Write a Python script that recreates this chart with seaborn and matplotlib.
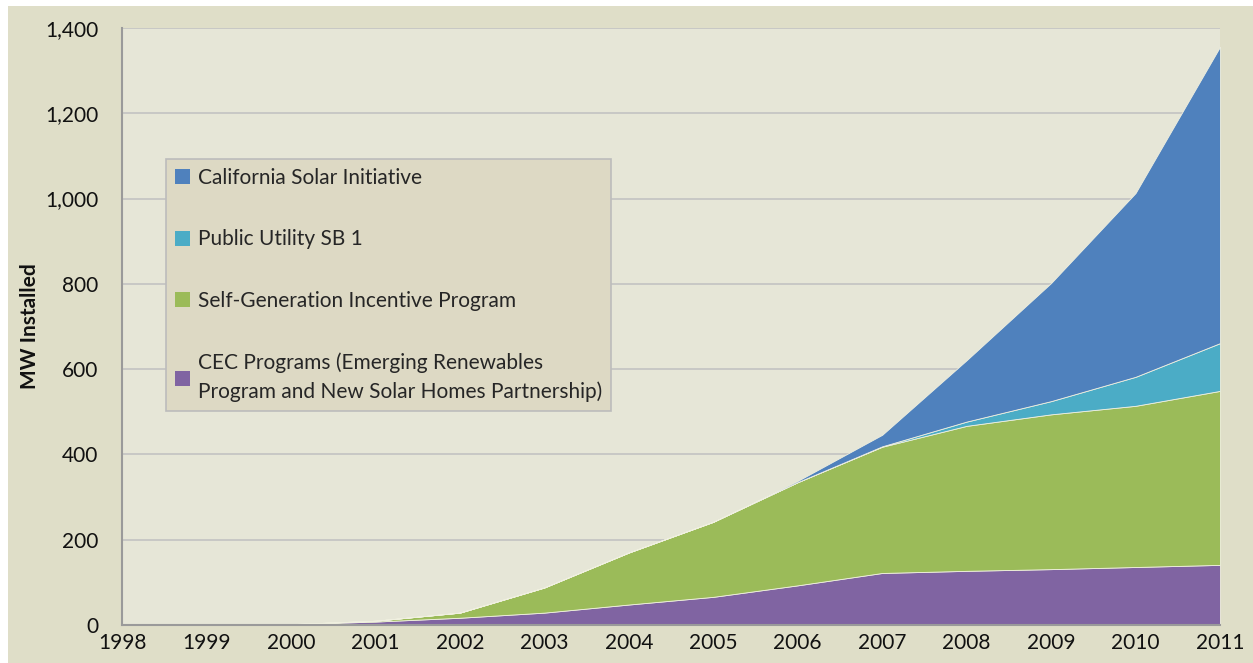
import matplotlib
matplotlib.use("Agg")
import matplotlib.pyplot as plt
import seaborn as sns
import numpy as np
from matplotlib.patches import Rectangle, Patch
from matplotlib.ticker import FuncFormatter

years = [1998, 1999, 2000, 2001, 2002, 2003, 2004, 2005, 2006, 2007, 2008, 2009, 2010, 2011]
cec = [0, 0.5, 2, 8, 17, 29, 48, 66, 93, 122, 127, 131, 136, 141]
sgip = [0, 0, 0, 2, 12, 59, 122, 176, 242, 296, 340, 363, 378, 408]
public_utility = [0, 0, 0, 0, 0, 0, 0, 0, 0, 1, 10, 31, 68, 112]
csi = [0, 0, 0, 0, 0, 0, 0, 0, 3, 27, 144, 277, 431, 695]

labels = ["CEC Programs (Emerging Renewables\nProgram and New Solar Homes Partnership)",
          "Self-Generation Incentive Program",
          "Public Utility SB 1",
          "California Solar Initiative"]
colors = ["#8064a2", "#9bbb59", "#4bacc6", "#4f81bd"]

sns.set_theme(style="white")
plt.rcParams['font.family'] = ['Lato', 'DejaVu Sans']

fig = plt.figure(figsize=(12.53, 6.63), dpi=100, facecolor="white")
fig.patches.append(Rectangle((8/1253, 0), 1 - 8/1253, 1 - 6/663, transform=fig.transFigure,
                             facecolor="#dfdec8", edgecolor="none", zorder=-10))
ax = fig.add_axes([122/1253, 38/663, 1098/1253, 597/663])
ax.set_facecolor("#e6e6d7")

ax.stackplot(years, cec, sgip, public_utility, csi, colors=colors,
             edgecolor="#f0f0e0", linewidth=0.6, zorder=3)

ax.set_xlim(1998, 2011)
ax.set_ylim(0, 1400)
ax.set_yticks(np.arange(0, 1401, 200))
ax.set_xticks(years)
ax.yaxis.set_major_formatter(FuncFormatter(lambda v, p: f"{int(v):,}"))
ax.grid(axis="y", color="#c2c2c2", linewidth=1.2, zorder=0)
ax.grid(axis="x", visible=False)
ax.set_axisbelow(True)
for s in ["top", "right"]:
    ax.spines[s].set_visible(False)
for s in ["left", "bottom"]:
    ax.spines[s].set_color("#9a9a9a")
    ax.spines[s].set_linewidth(1.5)
    ax.spines[s].set_zorder(4)
ax.tick_params(axis="both", labelsize=15, colors="#111111", length=0)
ax.tick_params(axis="y", pad=17)
ax.tick_params(axis="x", pad=6)
ax.set_ylabel("MW Installed", fontsize=15, fontweight="bold", color="#111111")
ax.yaxis.set_label_coords((40 - 122) / 1098, 0.5)

handles = [Patch(facecolor=c, edgecolor="none") for c in colors]
leg = ax.legend(handles[::-1], labels[::-1], loc="upper left",
                bbox_to_anchor=(44/1098, (625-159)/597), borderaxespad=0,
                fontsize=15, frameon=True, fancybox=False,
                handlelength=0.75, handleheight=0.75, handletextpad=0.35,
                labelspacing=2.0, borderpad=0.42)
leg.get_texts()[3].set_linespacing(1.5)
leg.get_frame().set_facecolor("#ddd9c4")
leg.get_frame().set_edgecolor("#bcbcbc")
leg.get_frame().set_alpha(1)
leg.get_frame().set_linewidth(1.2)
leg.set_zorder(6)

fig.savefig("out.png", dpi=100, facecolor=fig.get_facecolor())
